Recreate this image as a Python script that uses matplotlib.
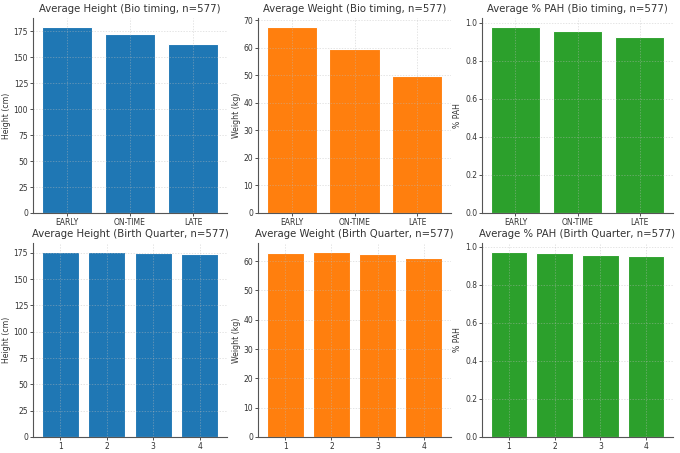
import matplotlib
matplotlib.use("Agg")
import matplotlib.pyplot as plt

bio_cats = ["EARLY", "ON-TIME", "LATE"]
bio_height = [179.0, 172.5, 162.5]
bio_weight = [67.5, 59.7, 49.8]
bio_pah = [0.975, 0.955, 0.925]

q_cats = ["1", "2", "3", "4"]
q_height = [175.3, 175.5, 175.0, 173.5]
q_weight = [62.8, 63.0, 62.3, 61.2]
q_pah = [0.970, 0.965, 0.958, 0.950]

c_blue = "#1f77b4"
c_orange = "#ff7f0e"
c_green = "#2ca02c"

plt.rcParams["font.family"] = "DejaVu Sans"
plt.rcParams["text.color"] = "#333333"
plt.rcParams["axes.labelcolor"] = "#333333"
plt.rcParams["xtick.color"] = "#333333"
plt.rcParams["ytick.color"] = "#333333"

fig = plt.figure(figsize=(6.8, 4.53), dpi=100)

panels = [
    (bio_cats, bio_height, c_blue, "Average Height (Bio timing, n=577)", "Height (cm)"),
    (bio_cats, bio_weight, c_orange, "Average Weight (Bio timing, n=577)", "Weight (kg)"),
    (bio_cats, bio_pah, c_green, "Average % PAH (Bio timing, n=577)", "% PAH"),
    (q_cats, q_height, c_blue, "Average Height (Birth Quarter, n=577)", "Height (cm)"),
    (q_cats, q_weight, c_orange, "Average Weight (Birth Quarter, n=577)", "Weight (kg)"),
    (q_cats, q_pah, c_green, "Average % PAH (Birth Quarter, n=577)", "% PAH"),
]

W, H = 680.0, 453.0
lefts = [33, 258, 482]
rights = [227, 451, 673]
tops = [18, 243]
bottoms = [213, 437]

for i, (cats, vals, col, title, ylab) in enumerate(panels):
    r, c = divmod(i, 3)
    l = lefts[c] / W
    w = (rights[c] - lefts[c]) / W
    b = 1 - bottoms[r] / H
    h = (bottoms[r] - tops[r]) / H
    ax = fig.add_axes([l, b, w, h])
    ax.bar(cats, vals, color=col, edgecolor="#ffffff", linewidth=0.8, zorder=2)
    ax.set_title(title, fontsize=7.3, color="#333333", pad=4)
    ax.set_ylabel(ylab, fontsize=5.6, labelpad=2)
    ax.tick_params(axis="both", labelsize=5.5, length=2, width=0.6, pad=1.5)
    ax.grid(True, color="#bbbbbb", alpha=0.55, linestyle=(0, (2, 2)), linewidth=0.5, zorder=3)
    ax.set_axisbelow(False)
    for s in ["top", "right"]:
        ax.spines[s].set_visible(False)
    for s in ["left", "bottom"]:
        ax.spines[s].set_color("#555555")
        ax.spines[s].set_linewidth(0.8)
        ax.spines[s].set_zorder(4)

fig.savefig("out.png", dpi=100)
